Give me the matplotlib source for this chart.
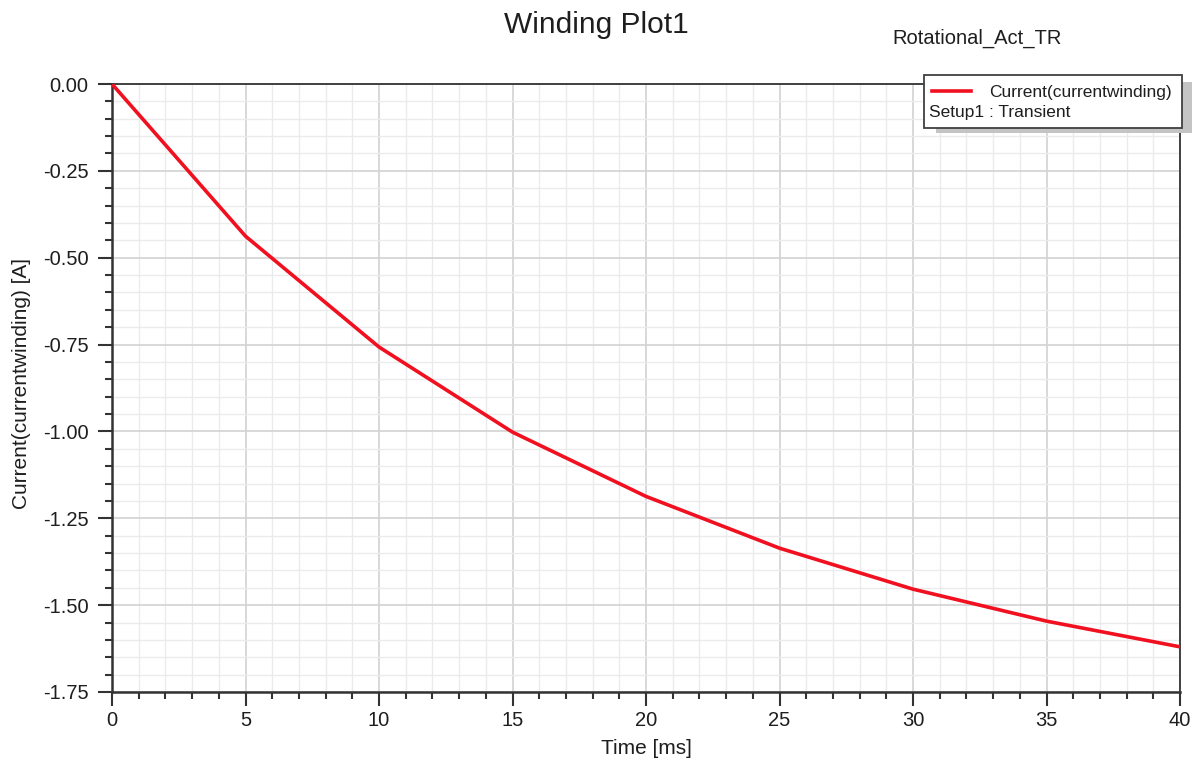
import numpy as np
import matplotlib
matplotlib.use('Agg')
import matplotlib.pyplot as plt
from matplotlib.patches import Rectangle
from matplotlib.lines import Line2D
from matplotlib.ticker import MultipleLocator

plt.rcParams['font.family'] = ['Liberation Sans', 'DejaVu Sans']

# data (kinks every 5 ms)
time_ms = [0, 5, 10, 15, 20, 25, 30, 35, 40]
current_a = [0.0, -0.438, -0.757, -1.002, -1.187, -1.336, -1.454, -1.546, -1.620]

x_ticks = [0, 5, 10, 15, 20, 25, 30, 35, 40]
y_ticks = [0.0, -0.25, -0.5, -0.75, -1.0, -1.25, -1.5, -1.75]

W, H = 1203, 763
fig = plt.figure(figsize=(W / 100, H / 100), dpi=100)


def px(x, y):
    # pixel position -> figure fraction
    return x / W, 1 - y / H


ax = fig.add_axes([112 / W, 1 - 692 / H, (1180 - 112) / W, (692 - 84) / H])

red = '#f01020'
ax.plot(time_ms, current_a, color=red, lw=2.6, solid_joinstyle='round', zorder=3)

ax.set_xlim(0, 40)
ax.set_ylim(-1.75, 0.0)
ax.set_xticks(x_ticks)
ax.set_yticks(y_ticks)
ax.set_yticklabels(['%.2f' % v for v in y_ticks])
ax.xaxis.set_minor_locator(MultipleLocator(1))
ax.yaxis.set_minor_locator(MultipleLocator(0.05))

ax.grid(which='major', color='#d2d2d2', lw=1.2)
ax.grid(which='minor', color='#ebebeb', lw=1.0)
ax.set_axisbelow(True)

ax.tick_params(which='major', length=10, width=1.5, color='#333333',
               labelsize=14.5, labelcolor='#1e1e1e', direction='out')
ax.tick_params(axis='y', which='major', pad=7)
ax.tick_params(axis='x', which='major', pad=4)
ax.tick_params(which='minor', length=5, width=1.5, color='#333333', direction='out')

for side in ['left', 'bottom']:
    ax.spines[side].set_linewidth(1.8)
    ax.spines[side].set_color('#333333')
for side in ['top', 'right']:
    ax.spines[side].set_linewidth(1.3)
    ax.spines[side].set_color('#333333')

# labels and titles
fig.text(*px(596, 25), 'Winding Plot1', fontsize=21.5, ha='center', va='center', color='#1e1e1e')
fig.text(*px(977, 38), 'Rotational_Act_TR', fontsize=14.5, ha='center', va='center', color='#1e1e1e')
fig.text(*px(22, 384), 'Current(currentwinding) [A]', fontsize=15, rotation=90,
         ha='center', va='center', color='#1e1e1e')
fig.text(*px(646, 748), 'Time [ms]', fontsize=15, ha='center', va='center', color='#1e1e1e')

# legend box with drop shadow
x0, y0 = px(936, 133)
fig.add_artist(Rectangle((x0, y0), (1192 - 936) / W, (133 - 82) / H,
                         transform=fig.transFigure, facecolor='#c4c4c4',
                         edgecolor='none', zorder=5))
x0, y0 = px(924, 128)
fig.add_artist(Rectangle((x0, y0), (1182 - 924) / W, (128 - 75) / H,
                         transform=fig.transFigure, facecolor='white',
                         edgecolor='#404040', lw=1.3, zorder=6))
lx0, ly = px(932, 91)
lx1, _ = px(971, 91)
fig.add_artist(Line2D([lx0, lx1], [ly, ly], transform=fig.transFigure,
                      color=red, lw=2.6, zorder=7))
t1 = fig.text(*px(989, 92), 'Current(currentwinding)', fontsize=12.5,
              ha='left', va='center', color='#1e1e1e')
t2 = fig.text(*px(929, 113), 'Setup1 : Transient', fontsize=12.5,
              ha='left', va='center', color='#1e1e1e')
t1.set_zorder(8)
t2.set_zorder(8)

fig.savefig('out.png', dpi=100)
